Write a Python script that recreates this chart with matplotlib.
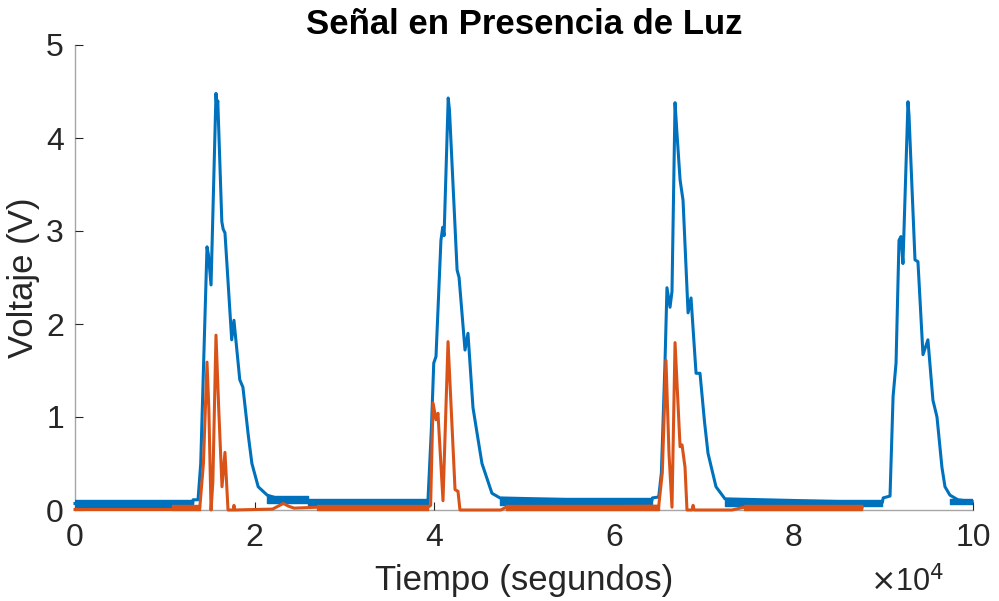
import numpy as np
import matplotlib
matplotlib.use("Agg")
import matplotlib.pyplot as plt

# ---- Trace keypoints (time in samples, voltage in V) ----
blue_t = [0, 13100, 13150, 13700, 14000, 14300, 14700, 14850, 15150, 15700, 15800, 15900,
          16350, 16500, 16700, 17450, 17700, 18350, 18700, 19300, 19700, 20400, 21400, 23400,
          39300, 39700, 39950, 40200, 40750, 40950, 41100, 41560, 41700, 42550, 42770,
          43430, 43760, 44320, 44900, 45320, 46430, 47320,
          64200, 64300, 65000, 65300, 65700, 65920, 66260, 66480, 66820, 67000, 67380,
          67710, 68270, 68600, 69160, 69600, 70100, 70490, 71380, 72380,
          89900, 90000, 90760, 91100, 91430, 91760, 91980, 92200, 92760, 92870, 93540,
          93870, 94430, 94980, 95540, 95990, 96540, 96880, 97430, 98320, 99900]
blue_v = [0.07, 0.07, 0.11, 0.11, 0.50, 1.50, 2.83, 2.75, 2.42, 4.48, 4.33, 4.40,
          3.10, 3.02, 2.98, 1.83, 2.04, 1.40, 1.32, 0.80, 0.50, 0.25, 0.16, 0.10,
          0.09, 0.90, 1.58, 1.65, 2.90, 3.04, 2.95, 4.43, 4.30, 2.58, 2.50,
          1.72, 1.90, 1.10, 0.75, 0.50, 0.18, 0.13,
          0.09, 0.13, 0.14, 0.40, 1.58, 2.39, 2.18, 2.35, 4.38, 4.10, 3.55,
          3.33, 2.12, 2.28, 1.47, 1.47, 0.95, 0.61, 0.25, 0.12,
          0.08, 0.13, 0.15, 1.22, 1.58, 2.90, 2.94, 2.65, 4.39, 4.25, 2.69,
          2.67, 1.67, 1.83, 1.18, 1.00, 0.46, 0.25, 0.16, 0.11, 0.09]

orange_t = [0, 10800, 13900, 14300, 14700, 14900, 15150, 15350, 15700, 16000,
            16370, 16700, 17040, 17650, 17700, 17800, 22000, 22600, 23200, 23800,
            24400, 27000, 39300, 39600, 39870, 40200, 40420, 40980, 41540, 42320,
            42650, 42870, 47420, 48000, 65000, 65400, 65810, 66150, 66480, 66820,
            67380, 67600, 67930, 68150, 68720, 68830, 68950, 73160, 74500, 87650]
orange_v = [0.005, 0.005, 0.03, 0.50, 1.59, 1.10, 0.00, 0.30, 1.88, 1.10,
            0.25, 0.62, 0.00, 0.00, 0.05, 0.00, 0.01, 0.04, 0.07, 0.04,
            0.02, 0.03, 0.03, 0.05, 1.15, 0.97, 1.04, 0.10, 1.81, 0.22,
            0.20, 0.00, 0.00, 0.03, 0.04, 0.40, 1.61, 0.60, 0.03, 1.80,
            0.68, 0.70, 0.46, 0.00, 0.00, 0.05, 0.00, 0.00, 0.03, 0.03]

# ---- Noise envelopes of the baseline stretches (start, end, low, high) ----
blue_noise_start = [0, 21400, 26000, 47320, 72380, 97430]
blue_noise_end = [13100, 26000, 39300, 64200, 89900, 99900]
blue_noise_lo = [0.03, 0.07, 0.05, 0.05, 0.04, 0.06]
blue_noise_hi = [0.11, 0.15, 0.12, 0.13, 0.11, 0.12]

orange_noise_start = [10800, 27000, 48000, 74500]
orange_noise_end = [13900, 39300, 65000, 87650]
orange_noise_lo = [0.00, 0.00, 0.00, 0.00]
orange_noise_hi = [0.05, 0.05, 0.05, 0.05]

x_ticks = [0, 20000, 40000, 60000, 80000, 100000]
x_tick_labels = ["0", "2", "4", "6", "8", "10"]
y_ticks = [0, 1, 2, 3, 4, 5]

BLUE = "#0072BD"
ORANGE = "#D95319"
TEXT = "#262626"

plt.rcParams["font.family"] = ["Liberation Sans", "DejaVu Sans"]

fig = plt.figure(figsize=(9.99, 6.01), dpi=100)
ax = fig.add_axes([75 / 999, 91 / 601, 898 / 999, 465 / 601])

lw = 2.2
for s, e, lo, hi in zip(blue_noise_start, blue_noise_end, blue_noise_lo, blue_noise_hi):
    ax.fill_between([s, e], [lo, lo], [hi, hi], color=BLUE, lw=1.0, ec=BLUE, zorder=2)
ax.plot(blue_t, blue_v, color=BLUE, lw=lw, zorder=3, clip_on=False,
        solid_joinstyle="round")

for s, e, lo, hi in zip(orange_noise_start, orange_noise_end, orange_noise_lo, orange_noise_hi):
    ax.fill_between([s, e], [lo, lo], [hi, hi], color=ORANGE, lw=1.0, ec=ORANGE, zorder=4,
                    clip_on=False)
ax.plot(orange_t, orange_v, color=ORANGE, lw=lw, zorder=5, clip_on=False,
        solid_joinstyle="round")

ax.set_xlim(0, 100000)
ax.set_ylim(0, 5)
ax.set_xticks(x_ticks)
ax.set_xticklabels(x_tick_labels)
ax.set_yticks(y_ticks)

for side in ("top", "right"):
    ax.spines[side].set_visible(False)
for side in ("left", "bottom"):
    ax.spines[side].set_color("#a6a6a6")
    ax.spines[side].set_linewidth(1.0)
    ax.spines[side].set_zorder(1)

ax.tick_params(direction="in", length=6, width=0.8, colors=TEXT,
               labelsize=23, pad=8)
ax.tick_params(axis="x", pad=9)

ax.set_title("Señal en Presencia de Luz", fontsize=25, fontweight="bold",
             color="black", pad=8)
ax.set_xlabel("Tiempo (segundos)", fontsize=25, color=TEXT, labelpad=8)
ax.set_ylabel("Voltaje (V)", fontsize=25, color=TEXT, labelpad=4)

ax.text(0.968, -0.155, r"$\times$10$^{4}$", transform=ax.transAxes,
        ha="right", va="center", fontsize=22, color=TEXT)

fig.savefig("out.png", dpi=100)
